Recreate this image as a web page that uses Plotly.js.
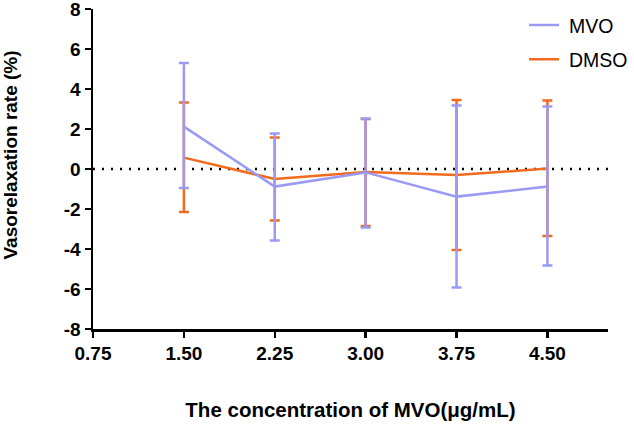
<!DOCTYPE html>
<html>
<head>
<meta charset="utf-8">
<script src="https://cdn.plot.ly/plotly-3.0.1.min.js"></script>
<style>html,body{margin:0;padding:0;background:#fff;}#chart{width:634px;height:428px;}</style>
</head>
<body>
<div id="chart"></div>
<script>
const concentrations = [1.50, 2.25, 3.00, 3.75, 4.50];
const mvoMean  = [2.12, -0.88, -0.17, -1.38, -0.88];
const mvoUpper = [5.30, 1.78, 2.53, 3.18, 3.12];
const mvoLower = [-0.95, -3.58, -2.92, -5.93, -4.83];
const dmsoMean  = [0.57, -0.50, -0.15, -0.30, 0.02];
const dmsoUpper = [3.32, 1.58, 2.50, 3.45, 3.42];
const dmsoLower = [-2.15, -2.57, -2.85, -4.05, -3.35];
const xTicks = [0.75, 1.50, 2.25, 3.00, 3.75, 4.50];
const xTickLabels = ["0.75", "1.50", "2.25", "3.00", "3.75", "4.50"];
const yTicks = [-8, -6, -4, -2, 0, 2, 4, 6, 8];
const yTickLabels = ["-8", "-6", "-4", "-2", "0", "2", "4", "6", "8"];

const mvoColor = '#9a9af5';
const dmsoColor = '#f26a1b';
const FONT = 'Liberation Sans, Arial, sans-serif';

function errs(mean, up, lo) {
  return {
    plus: up.map((u, i) => +(u - mean[i]).toFixed(3)),
    minus: lo.map((l, i) => +(mean[i] - l).toFixed(3))
  };
}
const em = errs(mvoMean, mvoUpper, mvoLower);
const ed = errs(dmsoMean, dmsoUpper, dmsoLower);

const traces = [
  {
    x: concentrations, y: dmsoMean, name: '\u2005DMSO', type: 'scatter', mode: 'lines',
    legendgroup: 'd', legendrank: 2,
    line: {color: dmsoColor, width: 2.5},
    error_y: {type: 'data', symmetric: false, array: ed.plus, arrayminus: ed.minus,
              color: dmsoColor, thickness: 2.5, width: 5}
  },
  {
    x: concentrations, y: mvoMean, name: '\u2005MVO', type: 'scatter', mode: 'lines',
    legendgroup: 'm', legendrank: 1,
    line: {color: mvoColor, width: 2.5},
    error_y: {type: 'data', symmetric: false, array: em.plus, arrayminus: em.minus,
              color: mvoColor, thickness: 2.5, width: 5}
  }
];

const layout = {
  width: 634, height: 428,
  margin: {l: 93, r: 26, t: 9, b: 99, autoexpand: false},
  paper_bgcolor: '#fff', plot_bgcolor: '#fff',
  font: {family: FONT, color: '#000'},
  showlegend: true,
  legend: {x: 0.837, y: 1.01, xanchor: 'left', yanchor: 'top', traceorder: 'grouped',
           font: {size: 19.5, color: '#000', family: FONT}, bgcolor: 'rgba(0,0,0,0)', tracegroupgap: 6, itemwidth: 30},
  xaxis: {
    range: [0.75, 5.0], tickvals: xTicks, ticktext: xTickLabels.map(t => '<b>' + t + '</b>'),
    showline: true, linecolor: '#000', linewidth: 2.5, showgrid: false, zeroline: false,
    ticks: 'outside', ticklen: 6, tickwidth: 2.5, tickcolor: '#000',
    tickfont: {size: 19, family: FONT},
    title: {text: '<b>The concentration of MVO(μg/mL)</b>', font: {size: 20.5, family: FONT}, standoff: 40}
  },
  yaxis: {
    range: [-8, 8.001], tickvals: yTicks, ticktext: yTickLabels.map(t => '<b>' + t + '</b>'),
    showline: true, linecolor: '#000', linewidth: 2.5, showgrid: false, zeroline: false,
    ticks: 'outside', ticklen: 6, tickwidth: 2.5, tickcolor: '#000', ticklabeloverflow: 'allow',
    tickfont: {size: 19, family: FONT}
  },
  annotations: [{
    text: '<b>Vasorelaxation rate (%)</b>', textangle: -90,
    xref: 'paper', yref: 'paper', x: -0.16, y: 0.544, xanchor: 'center', yanchor: 'middle',
    showarrow: false, font: {size: 19, family: FONT, color: '#000'}
  }],
  shapes: [{
    type: 'line', xref: 'paper', x0: 0, x1: 1, yref: 'y', y0: 0, y1: 0,
    line: {color: '#000', width: 2.5, dash: '2px,7px'}, layer: 'below'
  }]
};

Plotly.newPlot('chart', traces, layout, {displayModeBar: false, staticPlot: true});
</script>
</body>
</html>
